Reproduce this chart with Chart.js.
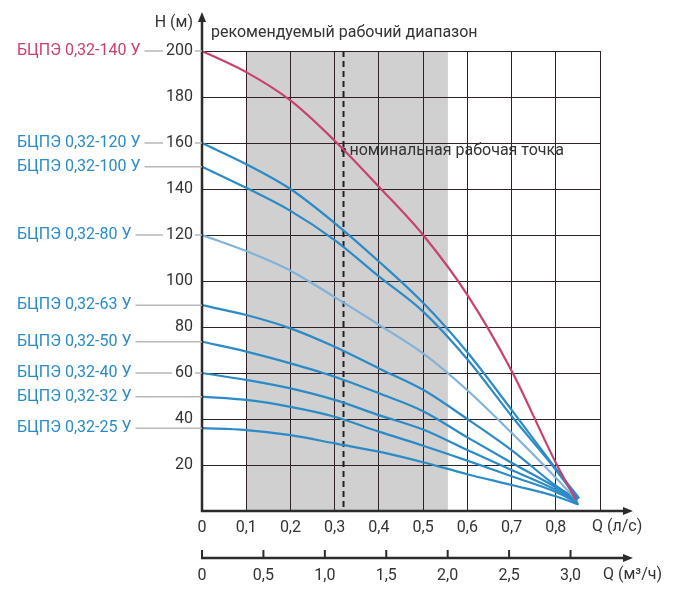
<!DOCTYPE html>
<html>
<head>
<meta charset="utf-8">
<script src="https://cdn.jsdelivr.net/npm/chart.js@4"></script>
<style>
  html, body { margin: 0; padding: 0; background: #fff; }
</style>
</head>
<body>
<canvas id="pumpChart" width="674" height="596"></canvas>
<script>
// Flow points (l/s) shared by all curves
const flowLs = [0, 0.1, 0.2, 0.3, 0.4, 0.5, 0.6, 0.7, 0.8];

// Head (m) per pump model at each flow point
const head140 = [200, 190.8, 178.5, 161, 141, 120, 94, 61, 21];
const head120 = [160, 150.8, 140, 125.2, 108.5, 90.5, 69, 44, 18.5];
const head100 = [149.7, 140.5, 130.5, 117.8, 102, 86.7, 66, 41.3, 17.9];
const head80 = [120, 113, 104.5, 93, 81, 68.5, 52.5, 34, 14.5];
const head63 = [89.5, 85.2, 79.4, 71.4, 62, 52.7, 40, 26.5, 11];
const head50 = [73.6, 69.3, 64.2, 58.4, 51.2, 43.4, 32, 21, 10.3];
const head40 = [60, 57, 53.3, 48.3, 41.7, 35.4, 26.5, 17.8, 9.2];
const head32 = [49.7, 48.3, 45.3, 41, 34.5, 28.4, 21.9, 15.1, 8.3];
const head25 = [36, 35.2, 33, 29.4, 25.8, 21.2, 16, 11.3, 6.4];

// Last point of each curve (close to shut-off at max flow)
const endFlow = [0.845, 0.853, 0.85, 0.846, 0.848, 0.848, 0.849, 0.85, 0.852];
const endHead = [5, 5.5, 5, 5, 5, 4.5, 4, 3.5, 2.8];

const models = ['БЦПЭ 0,32-140 У', 'БЦПЭ 0,32-120 У', 'БЦПЭ 0,32-100 У', 'БЦПЭ 0,32-80 У',
                'БЦПЭ 0,32-63 У', 'БЦПЭ 0,32-50 У', 'БЦПЭ 0,32-40 У', 'БЦПЭ 0,32-32 У', 'БЦПЭ 0,32-25 У'];
const heads = [head140, head120, head100, head80, head63, head50, head40, head32, head25];

// Recommended range and nominal point
const workRangeLs = [0.1, 0.556];
const nominalFlow = 0.32;
const nominalHead = 157;

const MAGENTA = '#c8406f';
const BLUE = '#2b8bc6';
const LIGHT_BLUE = '#80b2da';
const GRID = '#2e2228';
const TEXT = '#333333';
const AXIS = '#2b2b2b';

const colors = [MAGENTA, BLUE, BLUE, LIGHT_BLUE, BLUE, BLUE, BLUE, BLUE, BLUE];

Chart.defaults.font.family = 'Roboto';
Chart.defaults.font.size = 16;
Chart.defaults.color = TEXT;

const fmt = v => (v === 0 ? '0' : v.toFixed(1).replace('.', ','));

const datasets = heads.map((h, i) => ({
  label: models[i],
  data: flowLs.map((q, j) => ({ x: q, y: h[j] })).concat([{ x: endFlow[i], y: endHead[i] }]),
  borderColor: colors[i],
  borderWidth: 2.2,
  pointRadius: 0,
  fill: false,
  cubicInterpolationMode: 'monotone'
}));

datasets.push({
  label: 'nominal',
  data: [{ x: nominalFlow, y: nominalHead }],
  showLine: false,
  pointRadius: 2.5,
  pointBackgroundColor: '#222',
  pointBorderWidth: 0
});

const overlay = {
  id: 'overlay',
  beforeDraw(chart) {
    const { ctx, chartArea: a, scales: { x } } = chart;
    ctx.save();
    ctx.fillStyle = '#d0d0d0';
    const x0 = x.getPixelForValue(workRangeLs[0]);
    const x1 = x.getPixelForValue(workRangeLs[1]);
    ctx.fillRect(x0, a.top, x1 - x0, a.bottom - a.top);
    ctx.restore();
  },
  beforeDatasetsDraw(chart) {
    const { ctx, chartArea: a, scales: { x } } = chart;
    const px = x.getPixelForValue(nominalFlow);
    ctx.save();
    ctx.strokeStyle = '#222';
    ctx.lineWidth = 2;
    ctx.setLineDash([6, 4]);
    ctx.beginPath();
    ctx.moveTo(px, a.top);
    ctx.lineTo(px, a.bottom);
    ctx.stroke();
    ctx.restore();
  },
  afterDraw(chart) {
    const { ctx, chartArea: a, scales: { x, x2, y } } = chart;
    ctx.save();

    const arrowLine = (x0, y0, x1, y1, horizontal) => {
      ctx.strokeStyle = AXIS;
      ctx.fillStyle = AXIS;
      ctx.lineWidth = 2.5;
      ctx.beginPath();
      ctx.moveTo(x0, y0);
      ctx.lineTo(x1, y1);
      ctx.stroke();
      ctx.beginPath();
      if (horizontal) {
        ctx.moveTo(x1 + 6, y1);
        ctx.lineTo(x1 - 4, y1 - 4);
        ctx.lineTo(x1 - 4, y1 + 4);
      } else {
        ctx.moveTo(x1, y1 - 6);
        ctx.lineTo(x1 - 4, y1 + 4);
        ctx.lineTo(x1 + 4, y1 + 4);
      }
      ctx.closePath();
      ctx.fill();
    };

    // main axes
    arrowLine(a.left, a.bottom + 1, a.left, 18, false);
    arrowLine(a.left - 1, a.bottom, 627, a.bottom, true);

    // second flow axis (m3/h)
    const y2 = x2.top + 9;
    arrowLine(a.left - 1, y2, 627, y2, true);
    ctx.lineWidth = 2;
    x2.ticks.forEach(t => {
      const px = x2.getPixelForValue(t.value);
      ctx.beginPath();
      ctx.moveTo(px, y2 - 8);
      ctx.lineTo(px, y2);
      ctx.stroke();
    });

    // texts
    ctx.fillStyle = TEXT;
    ctx.font = '16px Roboto';
    ctx.textBaseline = 'middle';
    ctx.textAlign = 'right';
    ctx.fillText('H (м)', 193, 23);
    ctx.textAlign = 'left';
    ctx.fillText('рекомендуемый рабочий диапазон', 211, 33);
    ctx.fillText('Q (л/с)', 592, x.top + 16);
    ctx.fillText('Q (м³/ч)', 603, y2 + 17);
    ctx.fillText('номинальная рабочая точка', x.getPixelForValue(nominalFlow) + 6, y.getPixelForValue(nominalHead) + 1);

    // model labels with leader lines
    models.forEach((name, i) => {
      const py = y.getPixelForValue(heads[i][0]);
      ctx.fillStyle = colors[i] === LIGHT_BLUE ? BLUE : colors[i];
      ctx.textAlign = 'left';
      ctx.fillText(name, 17, py);
      const start = 17 + ctx.measureText(name).width + 4;
      ctx.strokeStyle = '#b8b8b8';
      ctx.lineWidth = 1.5;
      ctx.beginPath();
      const h = Math.round(heads[i][0]);
      if (h % 20 === 0) {
        const w = ctx.measureText(String(h)).width;
        ctx.moveTo(start, py);
        ctx.lineTo(193 - w - 3, py);
        ctx.moveTo(195, py);
        ctx.lineTo(a.left, py);
      } else {
        ctx.moveTo(start, py);
        ctx.lineTo(a.left, py);
      }
      ctx.stroke();
    });

    ctx.restore();
  }
};

new Chart(document.getElementById('pumpChart'), {
  type: 'line',
  data: { datasets },
  options: {
    responsive: false,
    animation: false,
    layout: { padding: { top: 51, right: 74, left: 0, bottom: 0 } },
    plugins: { legend: { display: false }, tooltip: { enabled: false } },
    scales: {
      x: {
        type: 'linear',
        position: 'bottom',
        weight: 0,
        min: 0,
        max: 0.9,
        ticks: {
          stepSize: 0.1,
          padding: 7,
          callback: v => (v > 0.85 ? '' : fmt(v))
        },
        grid: { color: GRID, lineWidth: 1, drawTicks: false },
        border: { display: false },
        afterFit: s => { s.height = 38; }
      },
      x2: {
        type: 'linear',
        position: 'bottom',
        weight: 1,
        min: 0,
        max: 3.24,
        ticks: {
          stepSize: 0.5,
          includeBounds: false,
          padding: 17,
          callback: v => fmt(v)
        },
        grid: { display: false, drawTicks: false },
        border: { display: false },
        afterFit: s => { s.height = 47; }
      },
      y: {
        min: 0,
        max: 200,
        ticks: {
          stepSize: 20,
          padding: 9,
          callback: v => (v === 0 ? '' : v)
        },
        grid: { color: GRID, lineWidth: 1, drawTicks: false },
        border: { display: false },
        afterFit: s => { s.width = 202; }
      }
    }
  },
  plugins: [overlay]
});
</script>
</body>
</html>
